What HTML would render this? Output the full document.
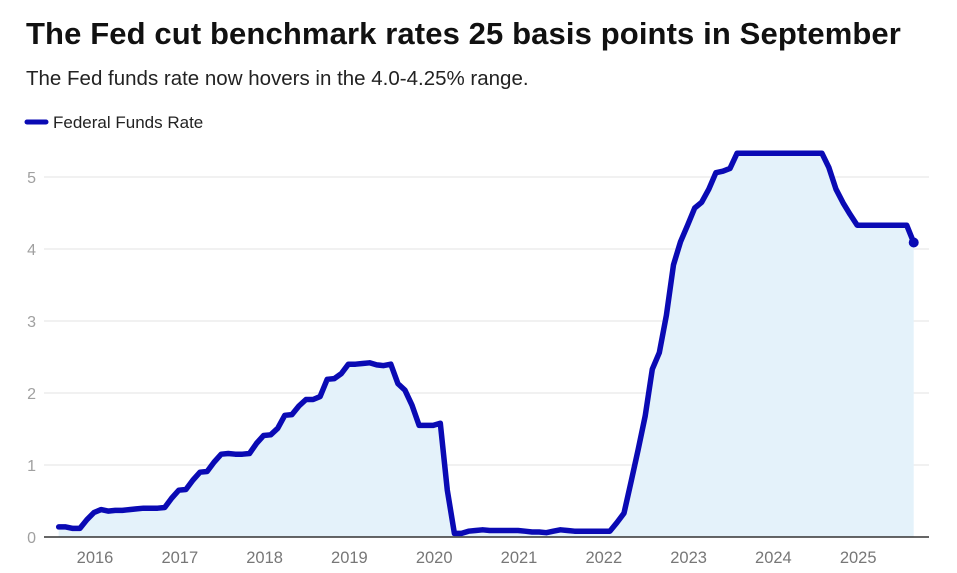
<!DOCTYPE html>
<html><head><meta charset="utf-8"><style>
body{margin:0;background:#fff;font-family:"Liberation Sans",sans-serif;}
#wrap{position:relative;width:957px;height:573px;overflow:hidden;}
h1{position:absolute;left:26px;top:16px;margin:0;font-size:31px;font-weight:bold;color:#111;letter-spacing:0.12px;white-space:nowrap;}
.sub{position:absolute;left:26px;top:67px;font-size:20.5px;color:#222;white-space:nowrap;}
</style></head><body>
<div id="wrap">
<h1>The Fed cut benchmark rates 25 basis points in September</h1>
<div class="sub">The Fed funds rate now hovers in the 4.0-4.25% range.</div>
<svg id="c" width="957" height="573" style="position:absolute;left:0;top:0"></svg>
</div>
<script>
const startYear = 2015, startMonth = 7; // Aug 2015 (0-based month)
const rates = [
0.14,0.14,0.12,0.12,0.24,
0.34,0.38,0.36,0.37,0.37,0.38,0.39,0.40,0.40,0.40,0.41,0.54,
0.65,0.66,0.79,0.90,0.91,1.04,1.15,1.16,1.15,1.15,1.16,1.30,
1.41,1.42,1.51,1.69,1.70,1.82,1.91,1.91,1.95,2.19,2.20,2.27,
2.40,2.40,2.41,2.42,2.39,2.38,2.40,2.13,2.04,1.83,1.55,1.55,
1.55,1.58,0.65,0.05,0.05,0.08,0.09,0.10,0.09,0.09,0.09,0.09,
0.09,0.08,0.07,0.07,0.06,0.08,0.10,0.09,0.08,0.08,0.08,0.08,
0.08,0.08,0.20,0.33,0.77,1.21,1.68,2.33,2.56,3.08,3.78,4.10,
4.33,4.57,4.65,4.83,5.06,5.08,5.12,5.33,5.33,5.33,5.33,5.33,
5.33,5.33,5.33,5.33,5.33,5.33,5.33,5.33,5.13,4.83,4.64,4.48,
4.33,4.33,4.33,4.33,4.33,4.33,4.33,4.33,4.09];
const yTicks = [0,1,2,3,4,5];
const xTicks = [2016,2017,2018,2019,2020,2021,2022,2023,2024,2025];
const NS="http://www.w3.org/2000/svg", svg=document.getElementById('c');
const xs = t => 94 + (t-2016)*84.8;
const ys = v => 537 - v*72;
function mk(tag, attrs){const e=document.createElementNS(NS,tag);for(const k in attrs)e.setAttribute(k,attrs[k]);svg.appendChild(e);return e;}
yTicks.forEach(v=>{
  if(v>0){const g=mk('line',{x1:44,x2:929,y1:ys(v),y2:ys(v),stroke:'#e3e3e3','stroke-width':1});
  
  }
  const t=mk('text',{x:36,y:ys(v)+6,'text-anchor':'end','font-size':16,fill:'#a0a0a0','font-family':'Liberation Sans'});
  t.textContent=v;
  
  
});
xTicks.forEach(y=>{
  const t=mk('text',{x:xs(y)+1,y:563,'text-anchor':'middle','font-size':16.5,fill:'#777','font-family':'Liberation Sans'});
  t.textContent=y;
  
  
});
const pts = rates.map((v,i)=>[xs(startYear+(startMonth+i)/12), ys(v)]);
const lineD = pts.map((p,i)=>(i?'L':'M')+p[0].toFixed(1)+' '+p[1].toFixed(1)).join(' ');
const area = mk('path',{d:lineD+` L${pts[pts.length-1][0]} ${ys(0)} L${pts[0][0]} ${ys(0)} Z`,fill:'#e4f2fa'});


const base=mk('line',{x1:44,x2:929,y1:ys(0),y2:ys(0),stroke:'#333','stroke-width':1.5});


const line = mk('path',{d:lineD,fill:'none',stroke:'#0a0ab4','stroke-width':5.5,'stroke-linejoin':'round','stroke-linecap':'round'});


const lp=pts[pts.length-1];
const dot=mk('circle',{cx:lp[0],cy:lp[1],r:5,fill:'#0a0ab4'});


const ll=mk('line',{x1:27,x2:46,y1:122,y2:122,stroke:'#0a0ab4','stroke-width':5,'stroke-linecap':'round'});


const lt=mk('text',{x:53,y:128,'font-size':17,fill:'#222','font-family':'Liberation Sans'});
lt.textContent='Federal Funds Rate';


</script>
</body></html>
